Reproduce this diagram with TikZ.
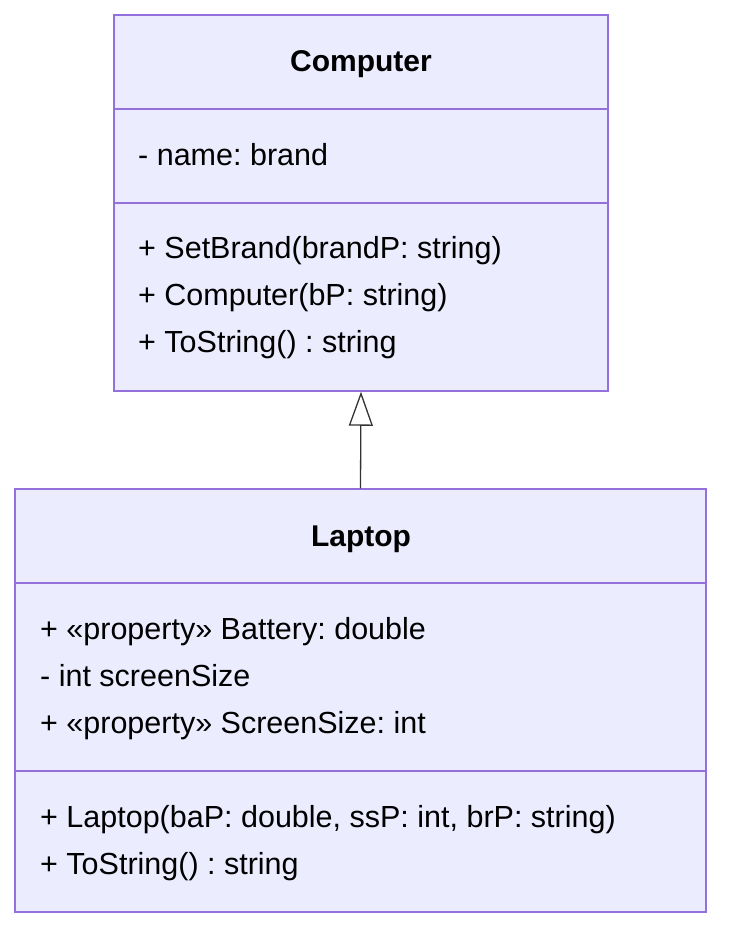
\documentclass[tikz,border=0pt]{standalone}
\usepackage{fontspec}
\setmainfont{Liberation Sans}
\usetikzlibrary{arrows.meta, positioning}
\frenchspacing
\definecolor{boxfill}{HTML}{ECECFF}
\definecolor{boxline}{HTML}{9370DB}
\definecolor{linkline}{HTML}{333333}
\tikzset{
    box/.style={draw=boxline, fill=boxfill, line width=1.5pt, inner sep=0pt},
    title/.style={anchor=base, inner sep=0pt, font=\fontsize{30}{34}\selectfont\bfseries, text=black},
    member/.style={anchor=base west, inner sep=0pt, font=\fontsize{30.5}{34}\selectfont, text=black},
    divider/.style={draw=boxline, line width=1.5pt}
}
\begin{document}
\begin{tikzpicture}[x=1pt, y=-1pt]
    \useasboundingbox (0,0) rectangle (738,948);
    % classes
    \node[box, minimum width=494pt, minimum height=376pt] (computer) at (361,203) {};
    \node[box, minimum width=691pt, minimum height=423pt] (laptop) at (360.5,700.5) {};
    \draw[divider] (114,109) -- (608,109);
    \draw[divider] (114,203) -- (608,203);
    \draw[divider] (15,583) -- (706,583);
    \draw[divider] (15,771) -- (706,771);
    % texts
    \node[title] (computertitle) at (361,71) {Computer};
    \node[member] (cname) at (138,165) {- name: brand};
    \node[member] (cset) at (138,258) {+ SetBrand(brandP: string)};
    \node[member] (cctor) at (138,305) {+ Computer(bP: string)};
    \node[member] (cstr) at (138,352) {+ ToString() : string};
    \node[title] (laptoptitle) at (361,546) {Laptop};
    \node[member] (lbat) at (40,639) {+ «property» Battery: double};
    \node[member] (lsize) at (40,686) {- int screenSize};
    \node[member] (lprop) at (40,733) {+ «property» ScreenSize: int};
    \node[member] (lctor) at (40,827) {+ Laptop(baP: double, ssP: int, brP: string)};
    \node[member] (lstr) at (40,874) {+ ToString() : string};
    % inheritance
    \draw[linkline, line width=1.3pt, -{Triangle[open, length=34pt, width=24pt, fill=white]}]
        (laptop.north) -- (computer.south);
\end{tikzpicture}
\end{document}
